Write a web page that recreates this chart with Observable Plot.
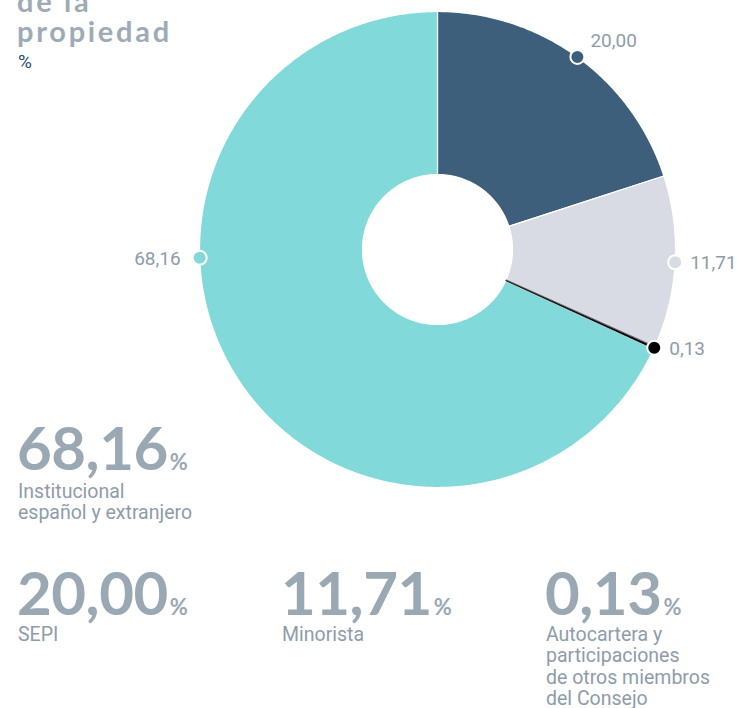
<!DOCTYPE html>
<html><head><meta charset="utf-8">
<script src="https://cdn.jsdelivr.net/npm/d3@7"></script>
<script src="https://cdn.jsdelivr.net/npm/@observablehq/plot@0.6"></script>
<style>
html,body{margin:0;padding:0;background:#fff;overflow:hidden;}
#wrap{position:relative;width:738px;height:708px;overflow:hidden;font-family:Roboto,"Noto Sans",sans-serif;}
#chart{position:absolute;left:0;top:0;}
.title{position:absolute;left:17px;top:-14px;font-family:Lato,sans-serif;font-weight:700;font-size:29px;line-height:30px;letter-spacing:2.7px;color:#9eabb6;}
.unit{position:absolute;left:18px;top:51px;font-size:19px;color:#1f4a78;line-height:22px;}
.big{position:absolute;font-family:Lato,sans-serif;font-weight:700;font-size:60px;line-height:48px;height:48px;letter-spacing:-0.5px;color:#9aa8b4;white-space:nowrap;}
.big span{font-size:22px;line-height:22px;letter-spacing:0;margin-left:2px;}
.desc{position:absolute;font-size:19.5px;line-height:21.3px;color:#8e9caa;white-space:nowrap;}
</style></head>
<body>
<div id="wrap">
  <div class="title">de la<br>propiedad</div>
  <div class="unit">%</div>
  <div id="chart"></div>
</div>
<script>
// ---- data ----
const categories = ["SEPI", "Minorista", "Autocartera y participaciones de otros miembros del Consejo", "Institucional español y extranjero"];
const values = [20.00, 11.71, 0.13, 68.16];
const valueLabels = ["20,00", "11,71", "0,13", "68,16"];
const colors = ["#3e5f7c", "#d8dbe3", "#000000", "#82d9da"];
const descLines = [["SEPI"], ["Minorista"], ["Autocartera y", "participaciones", "de otros miembros", "del Consejo"], ["Institucional", "español y extranjero"]];

// ---- geometry from data ----
const total = d3.sum(values);
const inner = 75 / 238;
const rad = a => a * Math.PI / 180;
let acc = 0;
const slices = values.map((v, i) => {
  const a0 = acc / total * 360; acc += v; const a1 = acc / total * 360;
  return {i, cat: categories[i], v, a0, a1};
});
const poly = [];
for (const s of slices) {
  const n = Math.max(2, Math.ceil((s.a1 - s.a0) / 0.5));
  for (let k = 0; k <= n; k++) { const a = s.a0 + (s.a1 - s.a0) * k / n; poly.push({cat: s.cat, x: Math.sin(rad(a)), y: Math.cos(rad(a))}); }
  for (let k = n; k >= 0; k--) { const a = s.a0 + (s.a1 - s.a0) * k / n; poly.push({cat: s.cat, x: inner * Math.sin(rad(a)), y: inner * Math.cos(rad(a))}); }
}
const labels = slices.map(s => {
  const frac = s.v / total;
  const a = frac > 0.5 ? 268 : (s.a0 + s.a1) / 2;
  return {cat: s.cat, label: valueLabels[s.i], x: Math.sin(rad(a)), y: Math.cos(rad(a)), left: Math.sin(rad(a)) < 0, top: a < 60};
});

const chart = Plot.plot({
  width: 738, height: 500,
  margin: 0,
  x: {domain: [-1, 1], range: [199, 675], axis: null},
  y: {domain: [-1, 1], range: [487, 11], axis: null},
  color: {domain: categories, range: colors},
  style: {background: "transparent", fontFamily: "Roboto, sans-serif"},
  marks: [
    Plot.line(poly.filter(d => d.cat !== categories[2]), {x: "x", y: "y", z: "cat", fill: "cat", stroke: "#ffffff", strokeWidth: 1.2, curve: "linear-closed"}),
    Plot.line(poly.filter(d => d.cat === categories[2]), {x: "x", y: "y", z: "cat", fill: "cat", stroke: "cat", strokeWidth: 0.6, curve: "linear-closed"}),
    Plot.dot(labels, {x: "x", y: "y", r: 7, fill: "cat", stroke: "#ffffff", strokeWidth: 2}),
    Plot.text(labels.filter(d => !d.left && !d.top), {x: "x", y: "y", text: "label", dx: 15, dy: 1, textAnchor: "start", fontSize: 19, fill: "#8e9caa"}),
    Plot.text(labels.filter(d => !d.left && d.top), {x: "x", y: "y", text: "label", dx: 13, dy: -16, textAnchor: "start", fontSize: 19, fill: "#8e9caa"}),
    Plot.text(labels.filter(d => d.left), {x: "x", y: "y", text: "label", dx: -19, dy: 1, textAnchor: "end", fontSize: 19, fill: "#8e9caa"})
  ]
});
document.getElementById("chart").appendChild(chart);

// ---- value blocks ----
const order = [[17, 566], [281, 566], [545, 566], [17, 421]];
const wrap = document.getElementById("wrap");
order.forEach(([l, t], i) => {
  const big = document.createElement("div"); big.className = "big";
  big.style.left = l + "px"; big.style.top = (t + 2) + "px";
  big.innerHTML = valueLabels[i] + "<span>%</span>";
  const desc = document.createElement("div"); desc.className = "desc";
  desc.style.left = (l + 1) + "px"; desc.style.top = (t + (i === 3 ? 60 : 58)) + "px";
  desc.innerHTML = descLines[i].join("<br>");
  wrap.appendChild(big); wrap.appendChild(desc);
});
</script>
</body></html>
